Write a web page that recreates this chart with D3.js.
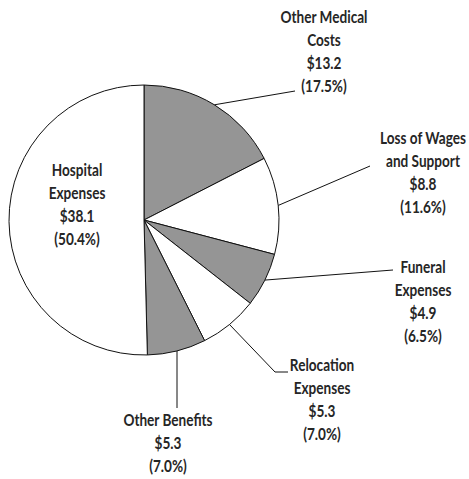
<!DOCTYPE html>
<html><head><meta charset="utf-8">
<script src="https://cdn.jsdelivr.net/npm/d3@7"></script>
<style>
html,body{margin:0;padding:0;background:#fff;}
svg{display:block;}
text{font-family:Lato,"DejaVu Sans",sans-serif;fill:#262626;}
</style></head>
<body>
<svg id="chart" width="469" height="479"></svg>
<script>
const categories = ["Other Medical Costs","Loss of Wages and Support","Funeral Expenses","Relocation Expenses","Other Benefits","Hospital Expenses"];
const labelLines = [["Other Medical","Costs"],["Loss of Wages","and Support"],["Funeral","Expenses"],["Relocation","Expenses"],["Other Benefits"],["Hospital","Expenses"]];
const values = [13.2, 8.8, 4.9, 5.3, 5.3, 38.1];
const percents = ["17.5%","11.6%","6.5%","7.0%","7.0%","50.4%"];

const fills = ["#959595","#ffffff","#959595","#ffffff","#959595","#ffffff"];
const cx = 144, cy = 220, R = 135;
// label layout: text centre x, first line centre y, leader path end points (absolute)
const layout = [
  {tx:324, ty:17,  leader:[[295,91]]},
  {tx:423, ty:138, leader:[[370,166]]},
  {tx:423, ty:267, leader:[[393,270]]},
  {tx:322, ty:365, leader:[[275,372],[288,372]]},
  {tx:168, ty:420, leader:[[177,408]], vertical:true},
  {tx:77,  ty:170, leader:null}
];
const lineH = 23;
const fontSize = 17.5;

const svg = d3.select("#chart");
// horizontal condensing so "Other Medical" is ~87px wide, as in the reference
const probe = svg.append("text").attr("font-size", fontSize).attr("font-weight","bold").text("Other Medical");
const squeeze = Math.min(1, 87 / probe.node().getComputedTextLength());
probe.remove();

const pie = d3.pie().sort(null).value(d => d)(values);
const arc = d3.arc().innerRadius(0).outerRadius(R);
const g = svg.append("g").attr("transform", `translate(${cx},${cy})`);
g.selectAll("path").data(pie).join("path")
  .attr("d", arc)
  .attr("fill", (d,i) => fills[i])
  .attr("stroke", "#111")
  .attr("stroke-width", 1);

pie.forEach((d,i) => {
  const L = layout[i];
  const mid = (d.startAngle + d.endAngle)/2;
  if (L.leader) {
    let sx = cx + R*Math.sin(mid), sy = cy - R*Math.cos(mid);
    if (L.vertical) { sx = L.leader[0][0]; sy = cy + Math.sqrt(R*R - (sx-cx)*(sx-cx)); }
    const pts = [[sx,sy]].concat(L.leader);
    svg.append("path").attr("d", d3.line()(pts))
      .attr("fill","none").attr("stroke","#111").attr("stroke-width",1);
  }
  const lines = labelLines[i].concat(["$" + values[i].toFixed(1), "(" + percents[i] + ")"]);
  const t = svg.append("text").attr("text-anchor","middle")
    .attr("transform", `translate(${L.tx},0) scale(${squeeze},1)`)
    .attr("font-size", fontSize).attr("font-weight", "bold");
  lines.forEach((s,k) => {
    t.append("tspan").attr("x", 0).attr("y", L.ty + k*lineH).attr("dy","0.35em").text(s);
  });
});
</script>
</body></html>
